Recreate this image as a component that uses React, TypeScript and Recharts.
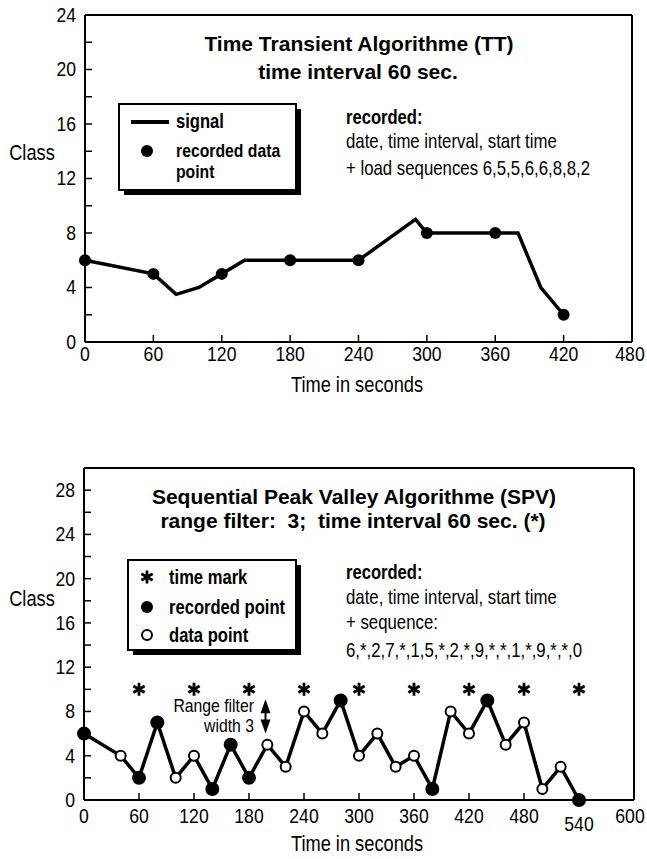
import React from "react";
import { ComposedChart, Line, Scatter, XAxis, YAxis, ReferenceLine } from "recharts";

const FONT = "'Liberation Sans', Arial, sans-serif";

// Time Transient (TT) chart
const ttSignalTime = [0, 60, 80, 100, 120, 140, 180, 240, 290, 300, 360, 380, 400, 420];
const ttSignalClass = [6, 5, 3.5, 4, 5, 6, 6, 6, 9, 8, 8, 8, 4, 2];
const ttRecTime = [0, 60, 120, 180, 240, 300, 360, 420];
const ttRecClass = [6, 5, 5, 6, 6, 8, 8, 2];
const ttXTicks = [0, 60, 120, 180, 240, 300, 360, 420, 480];
const ttYTicks = [0, 2, 4, 6, 8, 10, 12, 14, 16, 18, 20, 22, 24];

// Sequential Peak Valley (SPV) chart
const spvTime = [0, 40, 60, 80, 100, 120, 140, 160, 180, 200, 220, 240, 260, 280, 300, 320, 340, 360, 380, 400, 420, 440, 460, 480, 500, 520, 540];
const spvClass = [6, 4, 2, 7, 2, 4, 1, 5, 2, 5, 3, 8, 6, 9, 4, 6, 3, 4, 1, 8, 6, 9, 5, 7, 1, 3, 0];
const spvRecorded = [1, 0, 1, 1, 0, 0, 1, 1, 1, 0, 0, 0, 0, 1, 0, 0, 0, 0, 1, 0, 0, 1, 0, 0, 0, 0, 1];
const spvMarkTime = [60, 120, 180, 240, 300, 360, 420, 480, 540];
const spvMarkClass = [10, 10, 10, 10, 10, 10, 10, 10, 10];
const spvXTicks = [0, 60, 120, 180, 240, 300, 360, 420, 480, 540, 600];
const spvYTicks = [0, 2, 4, 6, 8, 10, 12, 14, 16, 18, 20, 22, 24, 26, 28];

const ttSignal = ttSignalTime.map((t, i) => ({ t, v: ttSignalClass[i] }));
const ttRec = ttRecTime.map((t, i) => ({ t, v: ttRecClass[i] }));
const spvData = spvTime.map((t, i) => ({ t, v: spvClass[i], rec: spvRecorded[i] === 1 }));
const spvMarks = spvMarkTime.map((t, i) => ({ t, v: spvMarkClass[i] }));

const AX = { stroke: "#000", strokeWidth: 2 };
const TL = { stroke: "#000", strokeWidth: 1.5 };

// condensed-looking text: regular sans squeezed horizontally
const T = ({ x, y, sx = 0.83, size = 20, anchor = "start", bold = false, children }: any) => (
  <text transform={`translate(${x},${y}) scale(${sx},1)`} textAnchor={anchor} dominantBaseline="central"
    fontFamily={FONT} fontSize={size} fontWeight={bold ? "bold" : "normal"} fill="#000" style={{ whiteSpace: "pre" }}>
    {children}
  </text>
);

const B = ({ x, y, children }: any) => (
  <text x={x} y={y} dominantBaseline="central" fill="#000" fontFamily={FONT} fontWeight="bold" fontSize={21}
    textAnchor="middle" style={{ whiteSpace: "pre" }}>
    {children}
  </text>
);

const noTick = () => <g />;

const leftTick = (every: number) => (p: any) =>
  p.payload.value % every !== 0 ? <g /> : (
    <T x={p.x} y={p.y} anchor="end" sx={0.88}>{p.payload.value}</T>
  );

// keep the last label inside the page
const bottomTick = (lowered: number[]) => (p: any) => (
  <T x={Math.min(p.x, 630)} y={p.y + (lowered.includes(p.payload.value) ? 8 : 0)} anchor="middle" sx={0.88}>
    {p.payload.value}
  </T>
);

const starPath = (cx: number, cy: number, r: number) =>
  [90, 30, 150].map((a) => {
    const dx = r * Math.cos((a * Math.PI) / 180);
    const dy = r * Math.sin((a * Math.PI) / 180);
    return `M${cx - dx},${cy - dy}L${cx + dx},${cy + dy}`;
  }).join("");

const Star = (p: any) => <path d={starPath(p.cx, p.cy, 6.5)} stroke="#000" strokeWidth={2.8} fill="none" />;
const Dot = (p: any) => <circle cx={p.cx} cy={p.cy} r={6} fill="#000" />;

const RangeArrow = (p: any) => {
  const x = p.x1;
  const top = Math.min(p.y1, p.y2);
  const bot = Math.max(p.y1, p.y2);
  return (
    <g>
      <line x1={x} y1={top + 8} x2={x} y2={bot - 8} stroke="#000" strokeWidth={2} />
      <path d={`M${x},${top}L${x - 5},${top + 14}L${x + 5},${top + 14}Z`} fill="#000" />
      <path d={`M${x},${bot}L${x - 5},${bot - 14}L${x + 5},${bot - 14}Z`} fill="#000" />
    </g>
  );
};

const LegendBox = ({ x, y, w, h }: any) => (
  <g>
    <rect x={x + 5} y={y + 5} width={w} height={h} fill="#000" />
    <rect x={x} y={y} width={w} height={h} fill="#fff" stroke="#000" strokeWidth={2} />
  </g>
);

function TTChart() {
  return (
    <div style={{ position: "absolute", left: 0, top: 0, width: 647, height: 400 }}>
      <ComposedChart width={647} height={400} margin={{ top: 14, right: 14, bottom: 28, left: 35 }}>
        <XAxis xAxisId="b" dataKey="t" type="number" domain={[0, 480]} ticks={ttXTicks} interval={0} height={30}
          tickSize={-7} tickMargin={19} axisLine={AX} tickLine={TL} tick={bottomTick([])} />
        <XAxis xAxisId="t" orientation="top" type="number" domain={[0, 480]} ticks={ttXTicks} interval={0} height={1}
          tickSize={-7} axisLine={AX} tickLine={TL} tick={noTick} />
        <YAxis yAxisId="l" type="number" domain={[0, 24]} ticks={ttYTicks} interval={0} width={50}
          tickSize={-7} tickMargin={16} axisLine={AX} tickLine={TL} tick={leftTick(4)} />
        <YAxis yAxisId="r" orientation="right" type="number" domain={[0, 24]} ticks={ttYTicks} interval={0} width={1}
          tickSize={-7} axisLine={AX} tickLine={TL} tick={noTick} />
        <Line xAxisId="b" yAxisId="l" data={ttSignal} dataKey="v" type="linear" stroke="#000" strokeWidth={3.5}
          dot={false} isAnimationActive={false} />
        <Scatter xAxisId="b" yAxisId="l" data={ttRec} dataKey="v" shape={Dot} isAnimationActive={false} />
      </ComposedChart>
      <svg width={647} height={400} style={{ position: "absolute", left: 0, top: 0, pointerEvents: "none" }}>
        <B x={359} y={43}>Time Transient Algorithme (TT)</B>
        <B x={358} y={71}>time interval 60 sec.</B>
        <LegendBox x={119} y={104} w={177} h={86} />
        <line x1={131} y1={122} x2={169} y2={122} stroke="#000" strokeWidth={4} />
        <T x={176} y={121} bold>signal</T>
        <circle cx={147} cy={151} r={6} fill="#000" />
        <T x={176} y={150} bold size={19}>recorded data</T>
        <T x={176} y={171} bold size={19}>point</T>
        <T x={346} y={117} bold>recorded:</T>
        <T x={346} y={141} sx={0.84}>date, time interval, start time</T>
        <T x={346} y={168} sx={0.84}>+ load sequences 6,5,5,6,6,8,8,2</T>
        <T x={32} y={152} anchor="middle" size={22}>Class</T>
        <T x={357} y={384} anchor="middle" size={22}>Time in seconds</T>
      </svg>
    </div>
  );
}

function SPVChart() {
  return (
    <div style={{ position: "absolute", left: 0, top: 420, width: 647, height: 439 }}>
      <ComposedChart width={647} height={439} margin={{ top: 47, right: 12, bottom: 29, left: 34 }}>
        <XAxis xAxisId="b" dataKey="t" type="number" domain={[0, 600]} ticks={spvXTicks} interval={0} height={30}
          tickSize={-7} tickMargin={23} axisLine={AX} tickLine={TL} tick={bottomTick([540])} />
        <XAxis xAxisId="t" orientation="top" type="number" domain={[0, 600]} ticks={spvXTicks} interval={0} height={1}
          tickSize={-7} axisLine={AX} tickLine={TL} tick={noTick} />
        <YAxis yAxisId="l" type="number" domain={[0, 30]} ticks={spvYTicks} interval={0} width={50}
          tickSize={-7} tickMargin={16} axisLine={AX} tickLine={TL} tick={leftTick(4)} />
        <YAxis yAxisId="r" orientation="right" type="number" domain={[0, 30]} ticks={spvYTicks} interval={0} width={1}
          tickSize={-7} axisLine={AX} tickLine={TL} tick={noTick} />
        <ReferenceLine xAxisId="b" yAxisId="l" segment={[{ x: 198, y: 9.1 }, { x: 198, y: 6 }]} shape={RangeArrow} />
        <Line xAxisId="b" yAxisId="l" data={spvData} dataKey="v" type="linear" stroke="#000" strokeWidth={3.5}
          isAnimationActive={false}
          dot={(p: any) => (
            <circle key={`d${p.index}`} cx={p.cx} cy={p.cy} r={p.payload.rec ? 6 : 5}
              fill={p.payload.rec ? "#000" : "#fff"} stroke="#000" strokeWidth={2} />
          )} />
        <Scatter xAxisId="b" yAxisId="l" data={spvMarks} dataKey="v" shape={Star} isAnimationActive={false} />
      </ComposedChart>
      <svg width={647} height={439} style={{ position: "absolute", left: 0, top: 0, pointerEvents: "none" }}>
        <B x={354} y={76}>Sequential Peak Valley Algorithme (SPV)</B>
        <B x={353} y={100}>{"range filter:  3;  time interval 60 sec. (*)"}</B>
        <LegendBox x={128} y={140} w={168} h={90} />
        <path d={starPath(147, 157, 6.5)} stroke="#000" strokeWidth={2.8} fill="none" />
        <T x={169} y={157} bold>time mark</T>
        <circle cx={147} cy={187} r={6} fill="#000" />
        <T x={169} y={187} bold>recorded point</T>
        <circle cx={147} cy={215} r={5} fill="#fff" stroke="#000" strokeWidth={2} />
        <T x={169} y={215} bold>data point</T>
        <T x={346} y={152} bold>recorded:</T>
        <T x={346} y={177} sx={0.84}>date, time interval, start time</T>
        <T x={346} y={202} sx={0.84}>+ sequence:</T>
        <T x={346} y={230} sx={0.84}>6,*,2,7,*,1,5,*,2,*,9,*,*,1,*,9,*,*,0</T>
        <T x={32} y={178} anchor="middle" size={22}>Class</T>
        <T x={254} y={285} anchor="end" size={19}>Range filter</T>
        <T x={254} y={305} anchor="end" size={19}>width 3</T>
        <T x={357} y={423} anchor="middle" size={22}>Time in seconds</T>
      </svg>
    </div>
  );
}

export default function App() {
  return (
    <div style={{ position: "absolute", left: 0, top: 0, width: 647, height: 859, background: "#fff" }}>
      <TTChart />
      <SPVChart />
    </div>
  );
}
